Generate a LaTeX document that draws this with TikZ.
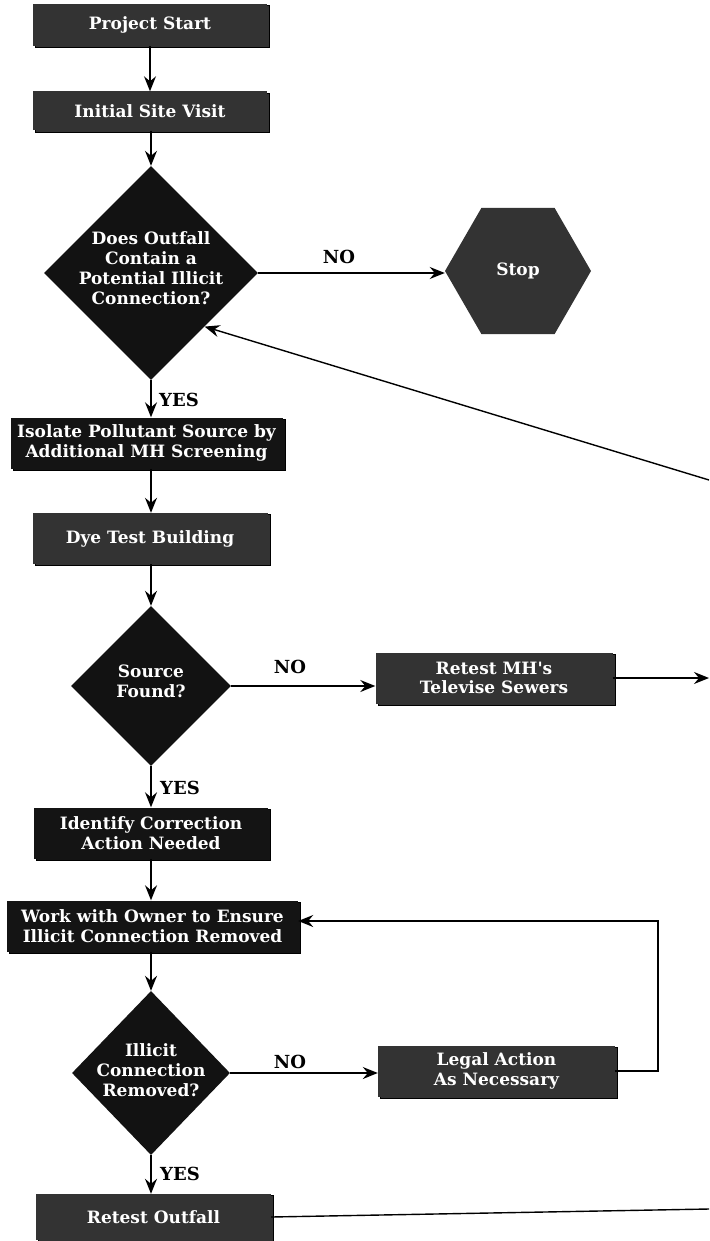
\documentclass[tikz,border=0pt]{standalone}
\usepackage{fontspec}
\setmainfont{DejaVu Serif}
\usetikzlibrary{shapes.geometric,arrows.meta,shadows}
\begin{document}
\begin{tikzpicture}[x=1pt,y=-1pt,
  box/.style={rectangle, fill=black!80, text=white, font=\bfseries\fontsize{17}{19.5}\selectfont, align=center, inner sep=0pt, copy shadow={shadow xshift=2.5pt, shadow yshift=-1.5pt}},
  dkbox/.style={box, fill=black!92},
  dia/.style={diamond, fill=black!93, inner sep=0pt},
  txt/.style={text=white, font=\bfseries\fontsize{17}{20}\selectfont, align=center},
  lab/.style={font=\bfseries\fontsize{18}{20}\selectfont, text=black, inner sep=0pt},
  arr/.style={line width=1.4pt, -{Stealth[length=15pt, width=12pt, inset=5pt]}},
  ln/.style={line width=1.4pt}
]
\useasboundingbox (0,0) rectangle (709,1241);

% boxes
\node[box, minimum width=234, minimum height=42] (start) at (150,25) {Project Start};
\node[box, minimum width=234, minimum height=39] (visit) at (150,111) {Initial Site Visit};
\node[dia, minimum width=214, minimum height=214] (d1) at (151,273) {};
\node[txt] at (151,268) {Does Outfall\\Contain a\\Potential Illicit\\Connection?};
\node[regular polygon, regular polygon sides=6, minimum size=146, inner sep=0pt, fill=black!80, text=white, font=\bfseries\fontsize{17}{19}\selectfont] (stop) at (518,271) {Stop};
\node[dkbox, minimum width=272, minimum height=51] (isolate) at (146.5,443) {Isolate Pollutant Source by\\Additional MH Screening};
\node[box, minimum width=235, minimum height=51] (dye) at (150,538.5) {Dye Test Building};
\node[dia, minimum width=160, minimum height=160] (d2) at (151,686) {};
\node[txt] at (151,681) {Source\\Found?};
\node[box, minimum width=237, minimum height=51] (retestmh) at (494,678) {Retest MH\textquotesingle s\\Televise Sewers};
\node[dkbox, minimum width=234, minimum height=51] (identify) at (151,833) {Identify Correction\\Action Needed};
\node[dkbox, minimum width=291, minimum height=51] (work) at (152.5,926) {Work with Owner to Ensure\\Illicit Connection Removed};
\node[dia, minimum width=158, minimum height=164] (d3) at (151,1073) {};
\node[txt] at (151,1070) {Illicit\\Connection\\Removed?};
\node[box, minimum width=237, minimum height=51] (legal) at (496.5,1071) {Legal Action\\As Necessary};
\node[box, minimum width=235, minimum height=46] (retestout) at (153.5,1217) {Retest Outfall};

% free ends at the picture edge
\coordinate (rmhend) at (709,0);
\coordinate (diagstart) at (709,480);
\coordinate (loopc) at (658,921);
\coordinate (outend) at (709,1209);

% connectors (vertical ones along the column x = 150)
\draw[arr] (start.south) -- (visit.north);
\draw[arr] (visit.south -| d1.north) -- (d1.north);
\draw[arr] (d1.east) -- (d1.east -| stop.west);
\draw[arr] (d1.south) -- (d1.south |- isolate.north);
\draw[arr] (isolate.south -| d1.south) -- (dye.north -| d1.south);
\draw[arr] (dye.south -| d2.north) -- (d2.north);
\draw[arr] (d2.east) -- (d2.east -| retestmh.west);
\draw[arr] (retestmh.east) -- (retestmh.east -| rmhend);
\draw[arr] (d2.south) -- (d2.south |- identify.north);
\draw[arr] (identify.south -| d2.south) -- (work.north -| d2.south);
\draw[arr] (work.south -| d3.north) -- (d3.north);
\draw[arr] (d3.east) -- (d3.east -| legal.west);
\draw[arr] (legal.east) -| (loopc) -- (work.east |- loopc);
\draw[arr] (d3.south) -- (d3.south |- retestout.north);
\draw[ln] (retestout.east) -- (outend);
\draw[arr] (diagstart) -- (d1.south east);

% labels
\node[lab] (no1) at (339,257) {NO};
\node[lab, anchor=west] (yes1) at (159,400) {YES};
\node[lab] (no2) at (290,667) {NO};
\node[lab, anchor=west] (yes2) at (160,788) {YES};
\node[lab] (no3) at (290,1062) {NO};
\node[lab, anchor=west] (yes3) at (160,1174) {YES};
\end{tikzpicture}
\end{document}
